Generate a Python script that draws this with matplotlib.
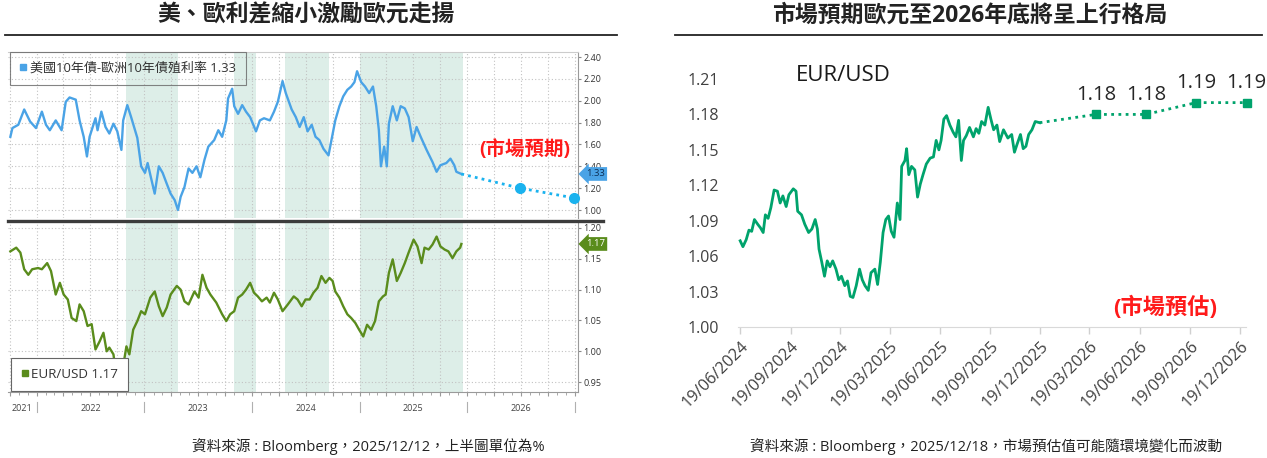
import pandas as pd
import matplotlib
matplotlib.use('Agg')
import matplotlib.pyplot as plt
import matplotlib.dates as mdates
import matplotlib.transforms as mtransforms
from matplotlib.lines import Line2D

plt.rcParams['font.family'] = ['Open Sans', 'Noto Sans CJK TC', 'DejaVu Sans']
plt.rcParams['axes.unicode_minus'] = False

# ---- left chart: US-EU 10y yield spread (top) ----
spread_dates = [
    "2021-10-03", "2021-10-10", "2021-10-30", "2021-11-19", "2021-12-09", "2021-12-29",
    "2022-01-18", "2022-02-01", "2022-02-14", "2022-03-06", "2022-03-26", "2022-04-09",
    "2022-04-22", "2022-05-13", "2022-05-26", "2022-06-09", "2022-06-20", "2022-06-29",
    "2022-07-19", "2022-07-26", "2022-08-08", "2022-08-22", "2022-09-04", "2022-09-18",
    "2022-10-01", "2022-10-15", "2022-10-21", "2022-11-04", "2022-11-17", "2022-12-08",
    "2022-12-21", "2023-01-03", "2023-01-12", "2023-01-23", "2023-02-05", "2023-02-19",
    "2023-03-04", "2023-03-18", "2023-03-31", "2023-04-14", "2023-04-25", "2023-05-04",
    "2023-05-17", "2023-05-31", "2023-06-13", "2023-06-27", "2023-07-10", "2023-07-24",
    "2023-08-06", "2023-08-26", "2023-09-09", "2023-09-22", "2023-10-06", "2023-10-12",
    "2023-10-26", "2023-11-02", "2023-11-15", "2023-11-29", "2023-12-12", "2023-12-26",
    "2024-01-15", "2024-01-28", "2024-02-11", "2024-03-02", "2024-03-16", "2024-03-29",
    "2024-04-14", "2024-04-25", "2024-05-15", "2024-05-29", "2024-06-11", "2024-06-25",
    "2024-07-08", "2024-07-22", "2024-08-04", "2024-08-17", "2024-08-31", "2024-09-17",
    "2024-09-27", "2024-10-10", "2024-10-24", "2024-11-06", "2024-11-20", "2024-12-03",
    "2024-12-14", "2024-12-23", "2025-01-06", "2025-01-19", "2025-02-02", "2025-02-15",
    "2025-02-26", "2025-03-07", "2025-03-14", "2025-03-25", "2025-04-03", "2025-04-10",
    "2025-04-23", "2025-05-07", "2025-05-20", "2025-06-03", "2025-06-16", "2025-06-30",
    "2025-07-13", "2025-07-27", "2025-08-16", "2025-09-05", "2025-09-19", "2025-10-02",
    "2025-10-22", "2025-11-05", "2025-11-18", "2025-11-25", "2025-12-12"]
spread_vals = [
    1.67, 1.75, 1.78, 1.92, 1.81, 1.75, 1.90, 1.78, 1.73, 1.82, 1.73, 1.99,
    2.03, 2.01, 1.82, 1.67, 1.49, 1.67, 1.84, 1.73, 1.90, 1.76, 1.70, 1.79,
    1.72, 1.55, 1.82, 1.96, 1.85, 1.66, 1.40, 1.34, 1.43, 1.30, 1.15, 1.40,
    1.34, 1.24, 1.15, 1.09, 1.00, 1.12, 1.21, 1.38, 1.34, 1.40, 1.30, 1.46,
    1.58, 1.64, 1.73, 1.67, 1.82, 2.02, 2.11, 1.95, 1.88, 1.96, 1.90, 1.85,
    1.72, 1.82, 1.84, 1.82, 1.90, 1.99, 2.18, 2.07, 1.92, 1.85, 1.76, 1.85,
    1.72, 1.78, 1.67, 1.64, 1.56, 1.50, 1.64, 1.82, 1.95, 2.04, 2.10, 2.13,
    2.17, 2.27, 2.17, 2.13, 2.07, 2.13, 1.95, 1.73, 1.40, 1.58, 1.40, 1.79,
    1.95, 1.82, 1.95, 1.93, 1.85, 1.63, 1.76, 1.67, 1.55, 1.44, 1.35, 1.41,
    1.43, 1.47, 1.41, 1.35, 1.33]
spread_fc_dates = ["2025-12-12", "2026-06-30", "2026-12-31"]
spread_fc_vals = [1.33, 1.20, 1.11]

# ---- left chart: EUR/USD (bottom) ----
eur_l_dates = [
    "2021-10-03", "2021-10-23", "2021-11-06", "2021-11-19", "2021-12-03", "2021-12-16",
    "2022-01-05", "2022-01-18", "2022-02-05", "2022-02-18", "2022-03-06", "2022-03-20",
    "2022-04-02", "2022-04-16", "2022-04-29", "2022-05-15", "2022-05-26", "2022-06-09",
    "2022-06-22", "2022-07-06", "2022-07-19", "2022-08-02", "2022-08-15", "2022-08-26",
    "2022-09-04", "2022-09-18", "2022-09-27", "2022-10-08", "2022-10-21", "2022-11-01",
    "2022-11-11", "2022-11-24", "2022-12-08", "2022-12-21", "2023-01-03", "2023-01-21",
    "2023-02-05", "2023-02-19", "2023-03-04", "2023-03-18", "2023-03-31", "2023-04-21",
    "2023-05-04", "2023-05-17", "2023-05-31", "2023-06-20", "2023-07-04", "2023-07-17",
    "2023-07-31", "2023-08-13", "2023-09-02", "2023-09-22", "2023-10-06", "2023-10-19",
    "2023-11-02", "2023-11-15", "2023-11-29", "2023-12-12", "2023-12-26", "2024-01-08",
    "2024-01-21", "2024-02-04", "2024-02-20", "2024-03-02", "2024-03-16", "2024-03-29",
    "2024-04-14", "2024-05-02", "2024-05-22", "2024-06-04", "2024-06-18", "2024-07-01",
    "2024-07-15", "2024-07-28", "2024-08-11", "2024-08-24", "2024-09-07", "2024-09-20",
    "2024-10-01", "2024-10-10", "2024-10-24", "2024-11-06", "2024-11-20", "2024-12-03",
    "2024-12-17", "2024-12-30", "2025-01-13", "2025-01-26", "2025-02-09", "2025-02-22",
    "2025-03-07", "2025-03-21", "2025-03-30", "2025-04-10", "2025-04-23", "2025-05-07",
    "2025-05-20", "2025-06-03", "2025-06-16", "2025-07-03", "2025-07-16", "2025-07-30",
    "2025-08-09", "2025-08-23", "2025-09-05", "2025-09-19", "2025-10-02", "2025-10-16",
    "2025-10-29", "2025-11-12", "2025-11-25", "2025-12-08", "2025-12-12"]
eur_l_vals = [
    1.162, 1.168, 1.160, 1.133, 1.124, 1.133, 1.135, 1.133, 1.143, 1.130, 1.092, 1.111,
    1.092, 1.084, 1.054, 1.049, 1.076, 1.065, 1.041, 1.044, 1.003, 1.016, 1.030, 1.000,
    1.006, 0.995, 0.962, 0.984, 0.976, 1.008, 0.995, 1.035, 1.049, 1.065, 1.060, 1.087,
    1.097, 1.073, 1.057, 1.071, 1.092, 1.106, 1.100, 1.081, 1.076, 1.097, 1.087, 1.124,
    1.103, 1.092, 1.079, 1.060, 1.049, 1.060, 1.065, 1.087, 1.092, 1.100, 1.111, 1.095,
    1.089, 1.081, 1.087, 1.079, 1.095, 1.084, 1.065, 1.076, 1.089, 1.084, 1.073, 1.084,
    1.084, 1.095, 1.103, 1.122, 1.111, 1.119, 1.114, 1.097, 1.087, 1.073, 1.060, 1.054,
    1.046, 1.035, 1.024, 1.043, 1.035, 1.049, 1.081, 1.089, 1.092, 1.127, 1.149, 1.114,
    1.127, 1.143, 1.160, 1.181, 1.170, 1.143, 1.168, 1.165, 1.173, 1.186, 1.170, 1.165,
    1.162, 1.151, 1.162, 1.168, 1.174]

band_start = ["2022-11-01", "2023-11-01", "2024-04-21", "2025-01-01"]
band_end = ["2023-04-25", "2024-01-14", "2024-09-19", "2025-12-18"]
years = ["2021", "2022", "2023", "2024", "2025", "2026"]
year_label_dates = ["2021-11-12", "2022-07-02", "2023-07-02", "2024-07-02", "2025-07-02", "2026-07-02"]
year_starts = ["2022-01-01", "2023-01-01", "2024-01-01", "2025-01-01", "2026-01-01", "2027-01-01"]
spread_ticks = [1.00, 1.20, 1.40, 1.60, 1.80, 2.00, 2.20, 2.40]
eur_l_ticks = [0.95, 1.00, 1.05, 1.10, 1.15, 1.20]

# ---- right chart: EUR/USD with market forecast ----
eur_r_dates = [
    "2024-06-19", "2024-06-24", "2024-06-30", "2024-07-05", "2024-07-10", "2024-07-15",
    "2024-07-21", "2024-07-26", "2024-07-31", "2024-08-04", "2024-08-09", "2024-08-14",
    "2024-08-20", "2024-08-26", "2024-08-31", "2024-09-05", "2024-09-11", "2024-09-16",
    "2024-09-24", "2024-09-29", "2024-10-02", "2024-10-09", "2024-10-15", "2024-10-22",
    "2024-10-28", "2024-11-03", "2024-11-07", "2024-11-10", "2024-11-15", "2024-11-20",
    "2024-11-25", "2024-11-30", "2024-12-05", "2024-12-11", "2024-12-16", "2024-12-21",
    "2024-12-27", "2025-01-01", "2025-01-06", "2025-01-11", "2025-01-17", "2025-01-23",
    "2025-01-28", "2025-02-02", "2025-02-08", "2025-02-13", "2025-02-20", "2025-02-25",
    "2025-03-02", "2025-03-07", "2025-03-12", "2025-03-17", "2025-03-22", "2025-03-27",
    "2025-04-02", "2025-04-07", "2025-04-10", "2025-04-16", "2025-04-19", "2025-04-23",
    "2025-04-28", "2025-05-04", "2025-05-09", "2025-05-14", "2025-05-19", "2025-05-25",
    "2025-06-01", "2025-06-07", "2025-06-12", "2025-06-17", "2025-06-21", "2025-06-26",
    "2025-07-01", "2025-07-07", "2025-07-13", "2025-07-18", "2025-07-23", "2025-07-28",
    "2025-08-01", "2025-08-06", "2025-08-12", "2025-08-19", "2025-08-24", "2025-08-29",
    "2025-09-03", "2025-09-09", "2025-09-15", "2025-09-20", "2025-09-25", "2025-10-01",
    "2025-10-06", "2025-10-13", "2025-10-21", "2025-10-28", "2025-11-02", "2025-11-07",
    "2025-11-13", "2025-11-18", "2025-11-23", "2025-11-28", "2025-12-04", "2025-12-10",
    "2025-12-18"]
eur_r_vals = [
    1.073, 1.068, 1.074, 1.082, 1.081, 1.091, 1.087, 1.084, 1.080, 1.095, 1.092, 1.101,
    1.116, 1.115, 1.105, 1.111, 1.102, 1.112, 1.117, 1.115, 1.098, 1.095, 1.087, 1.080,
    1.083, 1.091, 1.083, 1.066, 1.055, 1.043, 1.056, 1.051, 1.056, 1.049, 1.040, 1.043,
    1.035, 1.039, 1.026, 1.025, 1.035, 1.049, 1.040, 1.035, 1.031, 1.046, 1.049, 1.036,
    1.055, 1.080, 1.091, 1.094, 1.081, 1.076, 1.105, 1.091, 1.136, 1.141, 1.151, 1.129,
    1.136, 1.133, 1.110, 1.121, 1.129, 1.138, 1.143, 1.144, 1.158, 1.150, 1.158, 1.176,
    1.179, 1.171, 1.165, 1.161, 1.175, 1.141, 1.158, 1.162, 1.169, 1.161, 1.168, 1.164,
    1.174, 1.171, 1.186, 1.176, 1.167, 1.171, 1.157, 1.167, 1.160, 1.163, 1.148, 1.155,
    1.163, 1.151, 1.153, 1.163, 1.167, 1.174, 1.173]
eur_fc_dates = ["2025-12-18", "2026-03-31", "2026-06-30", "2026-09-30", "2026-12-31"]
eur_fc_vals = [1.173, 1.18, 1.18, 1.19, 1.19]
right_xticks = ["2024-06-19", "2024-09-19", "2024-12-19", "2025-03-19", "2025-06-19", "2025-09-19",
                "2025-12-19", "2026-03-19", "2026-06-19", "2026-09-19", "2026-12-19"]
right_yticks = [1.00, 1.03, 1.06, 1.09, 1.12, 1.15, 1.18, 1.21]

blue = '#4aa3e6'
olive = '#5a8c1c'
cyan = '#1ab2ee'
green = '#00a36c'
band_col = '#ddeee8'
red = '#ff1a1a'

W, H = 1267, 458
fig = plt.figure(figsize=(W / 100, H / 100), dpi=100)


def box(l, t, r, b):
    return [l / W, 1 - b / H, (r - l) / W, (b - t) / H]


D = pd.to_datetime
quarters = pd.date_range('2021-10-01', '2027-01-01', freq='QS')
months = pd.date_range('2021-10-01', '2027-01-01', freq='MS')

ax1 = fig.add_axes(box(8, 52, 578, 218))
ax2 = fig.add_axes(box(8, 223, 578, 392))
for ax in (ax1, ax2):
    for s, e in zip(band_start, band_end):
        ax.axvspan(D(s), D(e), color=band_col, lw=0, zorder=0)
    ax.set_xlim(D('2021-09-25'), D('2027-01-12'))
    ax.set_xticks(quarters)
    ax.set_xticks(months, minor=True)
    ax.grid(True, which='major', color='#c2c2c2', ls=(0, (1, 2)), lw=0.8)
    ax.yaxis.tick_right()
    ax.tick_params(axis='y', length=2.5, width=0.8, color='#888888', labelsize=6.5,
                   labelcolor='#333333', pad=1.5)
    ax.tick_params(axis='x', which='both', labelbottom=False)
    ax.spines['left'].set_visible(False)
    ax.spines['right'].set_color('#9a9a9a')
    ax.set_axisbelow(True)

ax1.tick_params(axis='x', which='both', length=0)
ax1.spines['bottom'].set_visible(False)
ax1.spines['top'].set_color('#cccccc')
ax2.spines['top'].set_visible(False)
ax2.spines['bottom'].set_color('#9a9a9a')
ax2.tick_params(axis='x', which='major', length=3, color='#9a9a9a')
ax2.tick_params(axis='x', which='minor', length=2, color='#9a9a9a')

ax1.plot(D(spread_dates), spread_vals, color=blue, lw=1.7, zorder=3)
ax1.plot(D(spread_fc_dates), spread_fc_vals, color=cyan, lw=2, ls=(0, (1, 1.5)),
         marker='o', markersize=7, markevery=[1, 2], clip_on=False, zorder=3)
ax1.set_ylim(0.927, 2.446)
ax1.set_yticks(spread_ticks)
ax1.set_yticklabels([f'{v:.2f}' for v in spread_ticks])

ax2.plot(D(eur_l_dates), eur_l_vals, color=olive, lw=1.7, zorder=3)
ax2.set_ylim(0.934, 1.208)
ax2.set_yticks(eur_l_ticks)
ax2.set_yticklabels([f'{v:.2f}' for v in eur_l_ticks])

# legends (transparent boxes, as in the source chart)
h1 = Line2D([], [], marker='s', ls='none', color=blue, markersize=4)
leg1 = ax1.legend([h1], [f'美國10年債-歐洲10年債殖利率 {spread_vals[-1]:.2f}'], loc='upper left',
                  bbox_to_anchor=(0.004, 1.0), borderaxespad=0, fancybox=False,
                  edgecolor='#666666', facecolor='none', fontsize=9.4, handlelength=0.5,
                  handletextpad=0.25, borderpad=0.75, labelcolor='#333333')
leg1.get_frame().set_linewidth(0.8)
h2 = Line2D([], [], marker='s', ls='none', color=olive, markersize=4)
leg2 = ax2.legend([h2], [f'EUR/USD {eur_l_vals[-1]:.2f}'], loc='lower left',
                  bbox_to_anchor=(0.006, 0.005), borderaxespad=0, fancybox=False,
                  edgecolor='#666666', facecolor='white', framealpha=1, fontsize=9.6,
                  handlelength=0.5, handletextpad=0.25, borderpad=0.75, labelcolor='#333333')
leg2.get_frame().set_linewidth(0.8)

# value tags on the right axis
tr1 = mtransforms.blended_transform_factory(ax1.transAxes, ax1.transData)
ax1.text(1.014, spread_vals[-1], f'{spread_vals[-1]:.2f}', transform=tr1, fontsize=6.8,
         color='#0d2f55', ha='left', va='center', clip_on=False,
         bbox=dict(boxstyle='larrow,pad=0.25', fc=blue, ec='none'))
tr2 = mtransforms.blended_transform_factory(ax2.transAxes, ax2.transData)
ax2.text(1.014, eur_l_vals[-1], f'{eur_l_vals[-1]:.2f}', transform=tr2, fontsize=6.8,
         color='white', ha='left', va='center', clip_on=False,
         bbox=dict(boxstyle='larrow,pad=0.25', fc=olive, ec='none'))

ax1.text(0.907, 0.41, '(市場預期)', transform=ax1.transAxes, fontsize=14, fontweight='bold',
         color=red, ha='center', va='center')

# year labels and separators under the lower panel
trx = mtransforms.blended_transform_factory(ax2.transData, ax2.transAxes)
for d in year_starts:
    ax2.plot([D(d), D(d)], [-0.06, -0.12], transform=trx, color='#b0b0b0', lw=0.8, clip_on=False)
for d, y in zip(year_label_dates, years):
    ax2.text(D(d), -0.095, y, transform=trx, fontsize=6.5, color='#444444', ha='center', va='center')

# separator between the two panels
fig.add_artist(Line2D([8 / W, 603 / W], [1 - 221 / H] * 2, color='#3c3c3c', lw=2.4))

# ---- right chart ----
ax3 = fig.add_axes(box(738, 79, 1246, 327))
ax3.plot(D(eur_r_dates), eur_r_vals, color=green, lw=2, zorder=3)
ax3.plot(D(eur_fc_dates), eur_fc_vals, color=green, lw=2, ls=(0, (1, 1.6)), marker='s',
         markersize=6, markevery=[1, 2, 3, 4], clip_on=False, zorder=3)
for d, v in zip(eur_fc_dates[1:], eur_fc_vals[1:]):
    ax3.annotate(f'{v:.2f}', (D(d), v), xytext=(0, 14), textcoords='offset points',
                 ha='center', va='center', fontsize=14.5, color='#262626', annotation_clip=False)
ax3.set_xlim(D('2024-06-15'), D('2026-12-30'))
ax3.set_ylim(1.00, 1.21)
ax3.set_xticks(D(right_xticks))
ax3.xaxis.set_major_formatter(mdates.DateFormatter('%d/%m/%Y'))
ax3.set_yticks(right_yticks)
ax3.set_yticklabels([f'{v:.2f}' for v in right_yticks])
ax3.tick_params(axis='y', length=0, pad=14, labelsize=11.5, labelcolor='#404040')
ax3.tick_params(axis='x', length=5, width=1, color='#d0d0d0', labelsize=11.8, labelcolor='#404040',
                pad=3, labelrotation=45)
for lab in ax3.get_xticklabels():
    lab.set_ha('right')
    lab.set_rotation_mode('anchor')
for s in ('top', 'right', 'left'):
    ax3.spines[s].set_visible(False)
ax3.spines['bottom'].set_color('#d9d9d9')
ax3.text(0.207, 1.015, 'EUR/USD', transform=ax3.transAxes, fontsize=16, color='#1a1a1a',
         ha='center', va='center')
ax3.text(0.84, 0.081, '(市場預估)', transform=ax3.transAxes, fontsize=16, fontweight='bold',
         color=red, ha='center', va='center')

# ---- titles, rules and sources ----
fig.text(306 / W, 1 - 16 / H, '美、歐利差縮小激勵歐元走揚', fontsize=16.5, fontweight='bold',
         color='#222222', ha='center', va='center')
fig.text(970 / W, 1 - 16 / H, '市場預期歐元至2026年底將呈上行格局', fontsize=16.5, fontweight='bold',
         color='#222222', ha='center', va='center')
fig.add_artist(Line2D([5 / W, 617 / W], [1 - 35 / H] * 2, color='#222222', lw=1.3))
fig.add_artist(Line2D([675 / W, 1262 / W], [1 - 35 / H] * 2, color='#222222', lw=1.3))
fig.text(368 / W, 1 - 447 / H, '資料來源 : Bloomberg，2025/12/12，上半圖單位為%', fontsize=10.5,
         color='#222222', ha='center', va='center')
fig.text(986 / W, 1 - 447 / H, '資料來源 : Bloomberg，2025/12/18，市場預估值可能隨環境變化而波動',
         fontsize=10.5, color='#222222', ha='center', va='center')

fig.savefig('out.png', dpi=100)
